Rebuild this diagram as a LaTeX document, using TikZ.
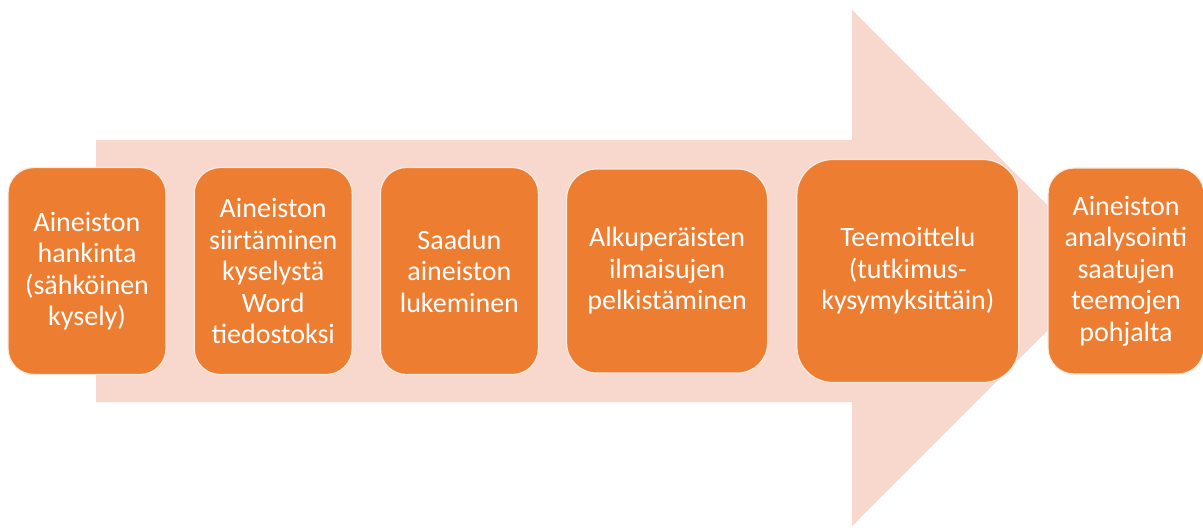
\documentclass[tikz,border=0pt]{standalone}
\usepackage{fontspec}
\setmainfont{Carlito}
\usetikzlibrary{positioning}
\definecolor{phaseorange}{RGB}{237,125,49}
\definecolor{arrowpink}{RGB}{248,215,204}

\begin{document}
\begin{tikzpicture}[x=1pt,y=-1pt,node distance=27pt]
  \tikzstyle{phase}=[draw=white!85!phaseorange, line width=1.2pt, fill=phaseorange,
    text=white, rounded corners=26pt, minimum width=158pt, minimum height=207pt,
    inner sep=0pt, align=center, font=\fontsize{28}{31.5}\selectfont]

  \useasboundingbox (0,0) rectangle (1203,532);

  % big background arrow
  \fill[arrowpink] (96,140) -- (852,140) -- (852,10) -- (1110,268)
    -- (852,526) -- (852,402) -- (96,402) -- cycle;

  \node[phase] (hankinta) at (87,271) {Aineiston\\hankinta\\(sähköinen\\kysely)};
  \node[phase] (siirto) [right=of hankinta] {Aineiston\\siirtäminen\\kyselystä\\Word\\tiedostoksi};
  \node[phase] (lukeminen) [right=of siirto] {Saadun\\aineiston\\lukeminen};
  \node[phase, minimum width=201pt, minimum height=204pt, rounded corners=30pt]
    (pelkistys) [right=of lukeminen] {Alkuperäisten\\ilmaisujen\\pelkistäminen};
  \node[phase, minimum width=222pt, minimum height=223pt, rounded corners=36pt]
    (teemat) [right=28pt of pelkistys] {Teemoittelu\\(tutkimus-\\kysymyksittäin)};
  \node[phase, minimum width=156pt, minimum height=206pt]
    (analyysi) [right=28pt of teemat] {Aineiston\\analysointi\\saatujen\\teemojen\\pohjalta};
\end{tikzpicture}
\end{document}
